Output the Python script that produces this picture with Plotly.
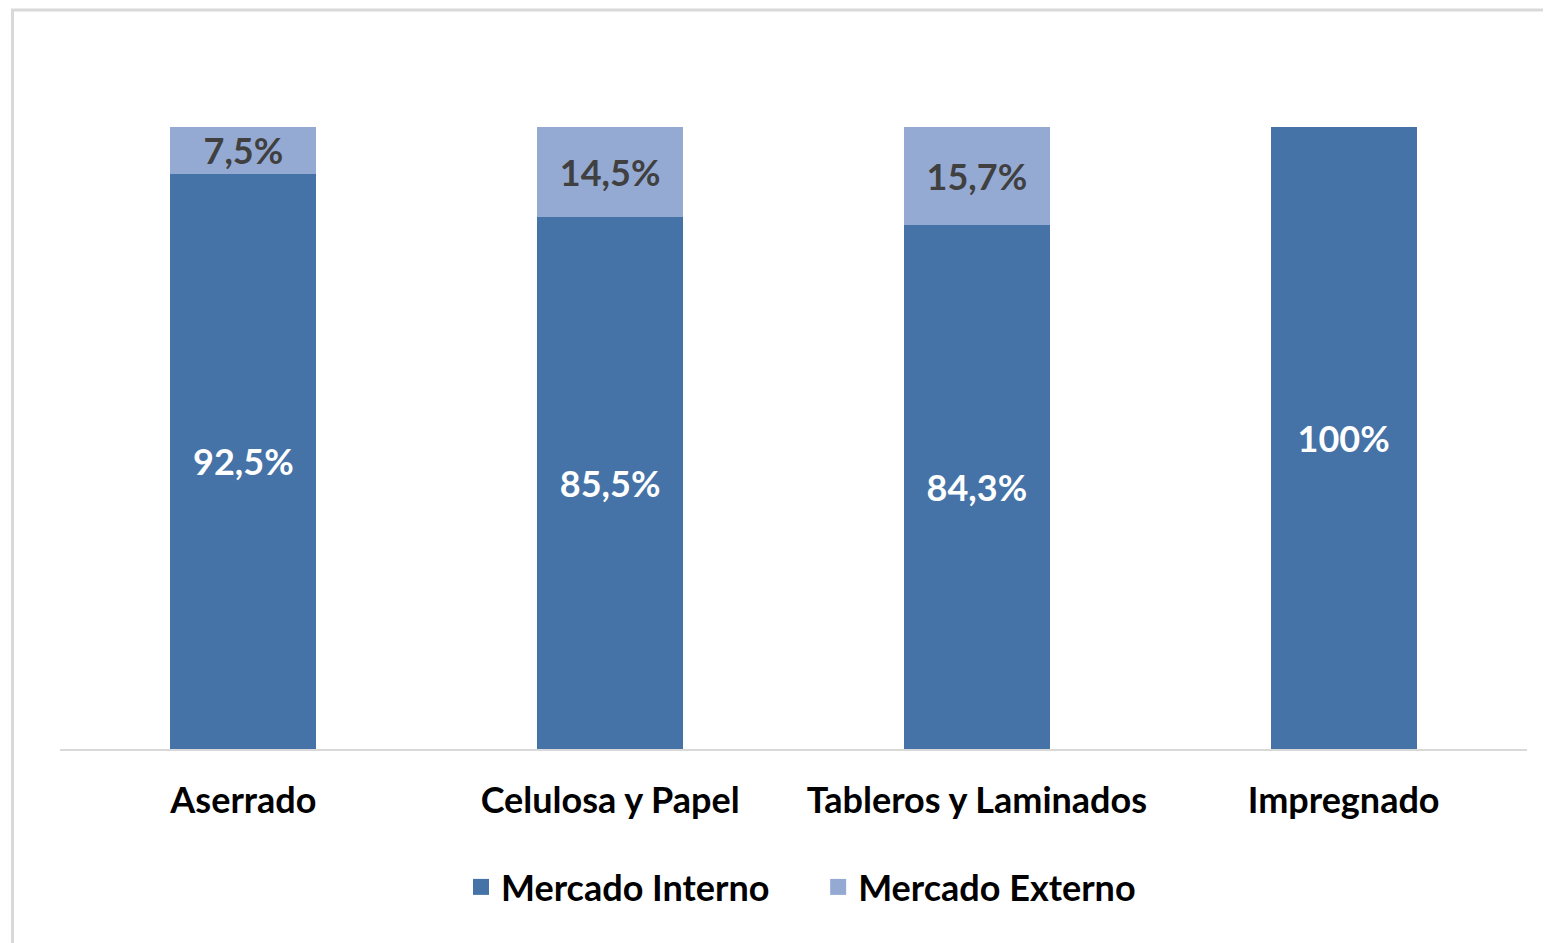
import plotly.graph_objects as go

categories = ["Aserrado", "Celulosa y Papel", "Tableros y Laminados", "Impregnado"]
interno = [92.5, 85.5, 84.3, 100]
externo = [7.5, 14.5, 15.7, 0]

COLOR_INT = "#4573a7"
COLOR_EXT = "#95aad3"
FONT = "Lato"
SIZE = 36


def fmt(v):
    if v == 0:
        return ""
    if float(v).is_integer():
        return f"{int(v)}%"
    return f"{v:.1f}%".replace(".", ",")


# the page body adds an 8px offset, so margins are set against that
OFF = 8
W, H = 1551, 943
L, R, T, B = 52, 32, 119, 202
pw, ph = W - L - R, H - T - B


def px_x(p):
    return (p - OFF - L) / pw


def px_y(p):
    return (H - B - (p - OFF)) / ph


fig = go.Figure()
fig.add_trace(go.Bar(
    x=categories, y=interno, name="Mercado Interno",
    marker_color=COLOR_INT, marker_line_width=0, showlegend=False,
    text=[fmt(v) for v in interno], textposition="inside",
    insidetextanchor="middle", constraintext="none",
    textfont=dict(family=FONT, size=SIZE, color="white", weight="bold"),
))
fig.add_trace(go.Bar(
    x=categories, y=externo, name="Mercado Externo",
    marker_color=COLOR_EXT, marker_line_width=0, showlegend=False,
    text=[fmt(v) for v in externo], textposition="inside",
    insidetextanchor="middle", constraintext="none",
    textfont=dict(family=FONT, size=SIZE, color="#404040", weight="bold"),
))

# legend entries with larger square swatches (nbsp pads the gap between items)
legend_items = [("Mercado Interno" + "\u00a0" * 5, COLOR_INT), ("Mercado Externo", COLOR_EXT)]
for name, color in legend_items:
    fig.add_trace(go.Scatter(
        x=[None], y=[None], mode="markers", name=name,
        marker=dict(symbol="square", size=19, color=color),
    ))

# light frame around the chart area (left and top edges visible)
fig.add_shape(type="line", xref="paper", yref="paper",
              x0=px_x(12.5), x1=px_x(12.5), y0=px_y(950), y1=px_y(10),
              line=dict(color="#d9d9d9", width=3))
fig.add_shape(type="line", xref="paper", yref="paper",
              x0=px_x(11), x1=px_x(1560), y0=px_y(10), y1=px_y(10),
              line=dict(color="#d9d9d9", width=3))

fig.update_layout(
    barmode="stack",
    bargap=0.602,
    width=W, height=H,
    margin=dict(l=L, r=R, t=T, b=B),
    plot_bgcolor="white",
    paper_bgcolor="white",
    font=dict(family=FONT, size=SIZE, color="black"),
    legend=dict(
        orientation="h",
        x=px_x(801), xanchor="center",
        y=px_y(887), yanchor="middle",
        font=dict(family=FONT, size=SIZE, color="black", weight="bold"),
        itemwidth=30,
        traceorder="normal",
    ),
    xaxis=dict(
        showline=True, linecolor="#d9d9d9", linewidth=2,
        showgrid=False, ticks="",
        tickfont=dict(family=FONT, size=SIZE, color="black", weight="bold"),
        ticklabelstandoff=19,
    ),
    yaxis=dict(range=[0, 100], visible=False, showgrid=False),
)

fig.write_html("out.html")
